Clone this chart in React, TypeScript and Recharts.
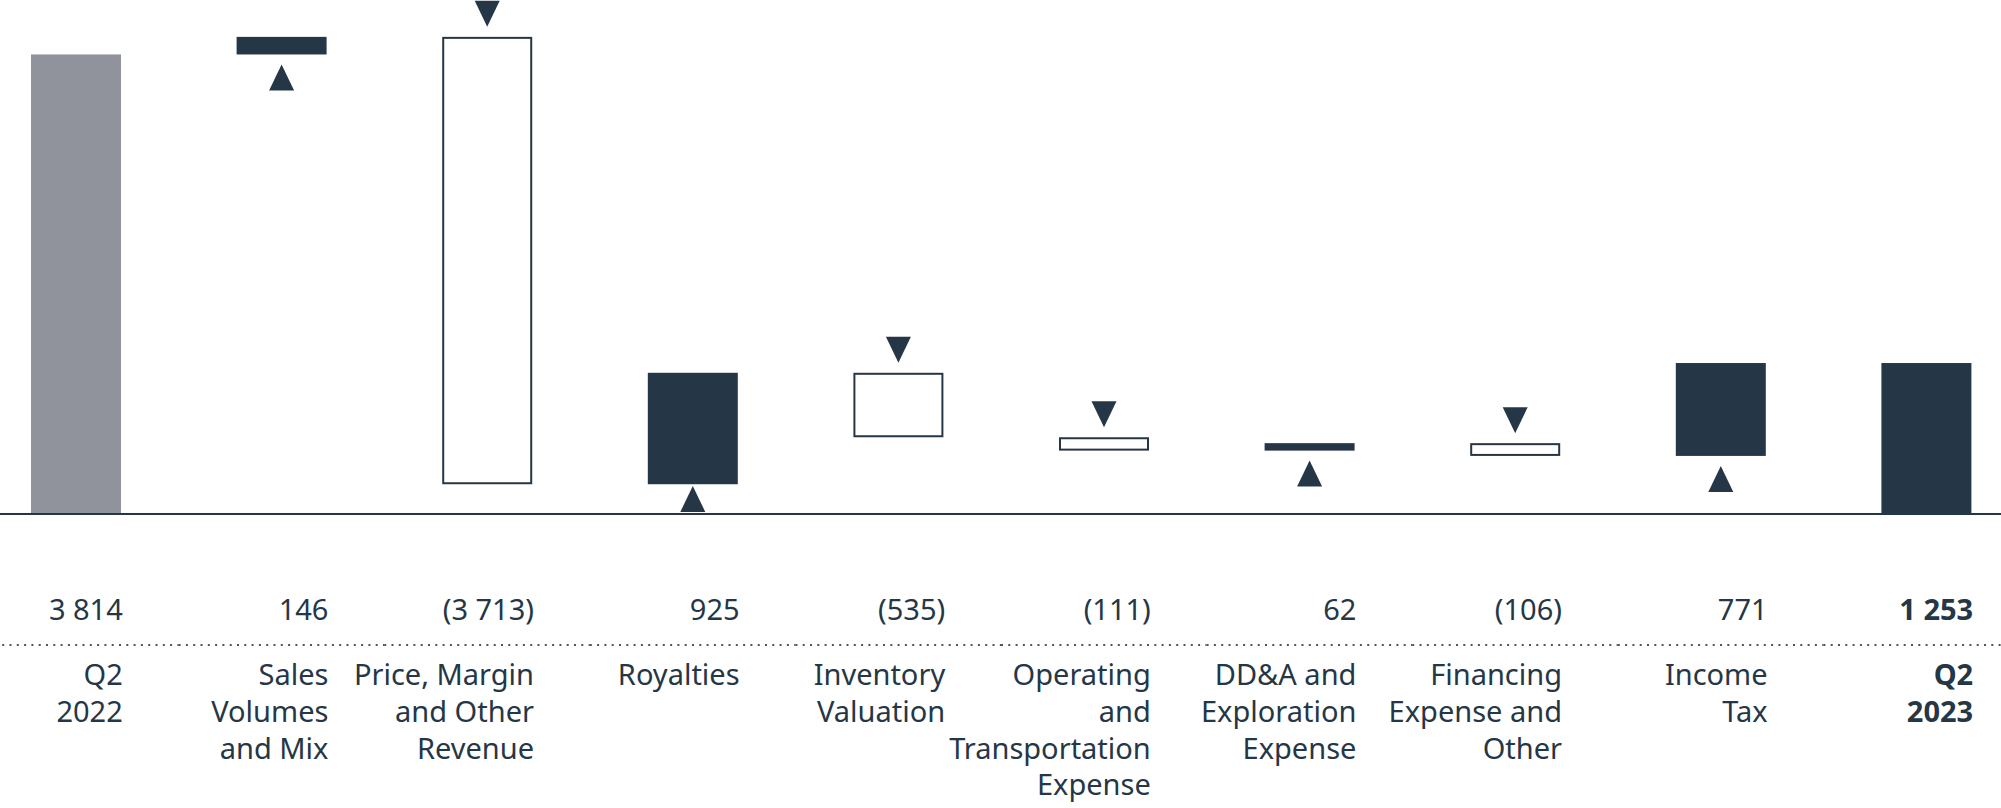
import { BarChart, Bar, XAxis, YAxis } from "recharts";

const categories = [
  ["Q2", "2022"],
  ["Sales", "Volumes", "and Mix"],
  ["Price, Margin", "and Other", "Revenue"],
  ["Royalties"],
  ["Inventory", "Valuation"],
  ["Operating", "and", "Transportation", "Expense"],
  ["DD&A and", "Exploration", "Expense"],
  ["Financing", "Expense and", "Other"],
  ["Income", "Tax"],
  ["Q2", "2023"],
];
const changes = [3814, 146, -3713, 925, -535, -111, 62, -106, 771, 1253];
const valueLabels = ["3 814", "146", "(3 713)", "925", "(535)", "(111)", "62", "(106)", "771", "1 253"];
const kinds = ["start", "step", "step", "step", "step", "step", "step", "step", "step", "end"];

const DARK = "#253746";
const GREY = "#91939c";
const FONT = "'Noto Sans', 'Open Sans', sans-serif";

const CHART_W = 2056;
const CHART_H = 808;
const AXIS_H = 294;
const AXIS_Y = CHART_H - AXIS_H;
const BAND = CHART_W / categories.length;
const TRI_W = 25;
const TRI_H = 26;
const GAP = 10;

// waterfall: each step floats between the running total before and after it
let running = 0;
const rows = categories.map((lines, i) => {
  const v = changes[i];
  const kind = kinds[i];
  if (kind !== "step") {
    running = v;
    return { name: lines.join(" "), base: 0, span: v, kind, dir: 0 };
  }
  const before = running;
  running += v;
  return { name: lines.join(" "), base: Math.min(before, running), span: Math.abs(v), kind, dir: Math.sign(v) };
});

function StepShape(props: any) {
  const { x, y, width, height, payload } = props;
  const cx = x + width / 2;
  const hw = TRI_W / 2;
  if (payload.kind === "start") return <rect x={x} y={y} width={width} height={height} fill={GREY} />;
  if (payload.kind === "end") return <rect x={x} y={y} width={width} height={height} fill={DARK} />;
  if (payload.dir > 0) {
    const top = Math.min(y + height + GAP, AXIS_Y - 2 - TRI_H);
    return (
      <g>
        <rect x={x} y={y} width={width} height={height} fill={DARK} />
        <polygon points={`${cx},${top} ${cx + hw},${top + TRI_H} ${cx - hw},${top + TRI_H}`} fill={DARK} />
      </g>
    );
  }
  const tip = y - GAP;
  return (
    <g>
      <rect x={x + 1} y={y + 1} width={width - 2} height={height - 2} fill="#fff" stroke={DARK} strokeWidth={2} />
      <polygon points={`${cx - hw},${tip - TRI_H} ${cx + hw},${tip - TRI_H} ${cx},${tip}`} fill={DARK} />
    </g>
  );
}

function CategoryTick(props: any) {
  const { x, payload } = props;
  const i = payload.index ?? props.index;
  const right = x + 47;
  const bold = kinds[i] === "end" ? 700 : 400;
  return (
    <g>
      <line
        x1={x - BAND / 2}
        x2={x + BAND / 2}
        y1={AXIS_Y + 131}
        y2={AXIS_Y + 131}
        stroke="#4a5763"
        strokeWidth={2}
        strokeDasharray="2 5.3"
      />
      <text x={right} y={AXIS_Y + 106} textAnchor="end" fontSize={29} fontFamily={FONT} fill={DARK} fontWeight={bold}>
        {valueLabels[i]}
      </text>
      <text textAnchor="end" fontSize={29} fontFamily={FONT} fill={DARK} fontWeight={bold}>
        {categories[i].map((line, j) => (
          <tspan key={j} x={right} y={AXIS_Y + 171 + j * 36.8}>
            {line}
          </tspan>
        ))}
      </text>
    </g>
  );
}

export default function App() {
  return (
    <div style={{ position: "fixed", left: 0, top: 0, width: 2001, height: 808, overflow: "hidden", background: "#fff" }}>
      <div style={{ position: "absolute", left: -27, top: 0 }}>
        <BarChart width={CHART_W} height={CHART_H} data={rows} margin={{ top: 0, right: 0, left: 0, bottom: 0 }} barSize={90}>
          <YAxis hide domain={[0, 4266]} />
          <XAxis
            dataKey="name"
            height={AXIS_H}
            interval={0}
            tickLine={false}
            axisLine={{ stroke: DARK, strokeWidth: 2 }}
            tick={<CategoryTick />}
          />
          <Bar dataKey="base" stackId="w" fill="transparent" isAnimationActive={false} />
          <Bar dataKey="span" stackId="w" shape={<StepShape />} isAnimationActive={false} />
        </BarChart>
      </div>
    </div>
  );
}
